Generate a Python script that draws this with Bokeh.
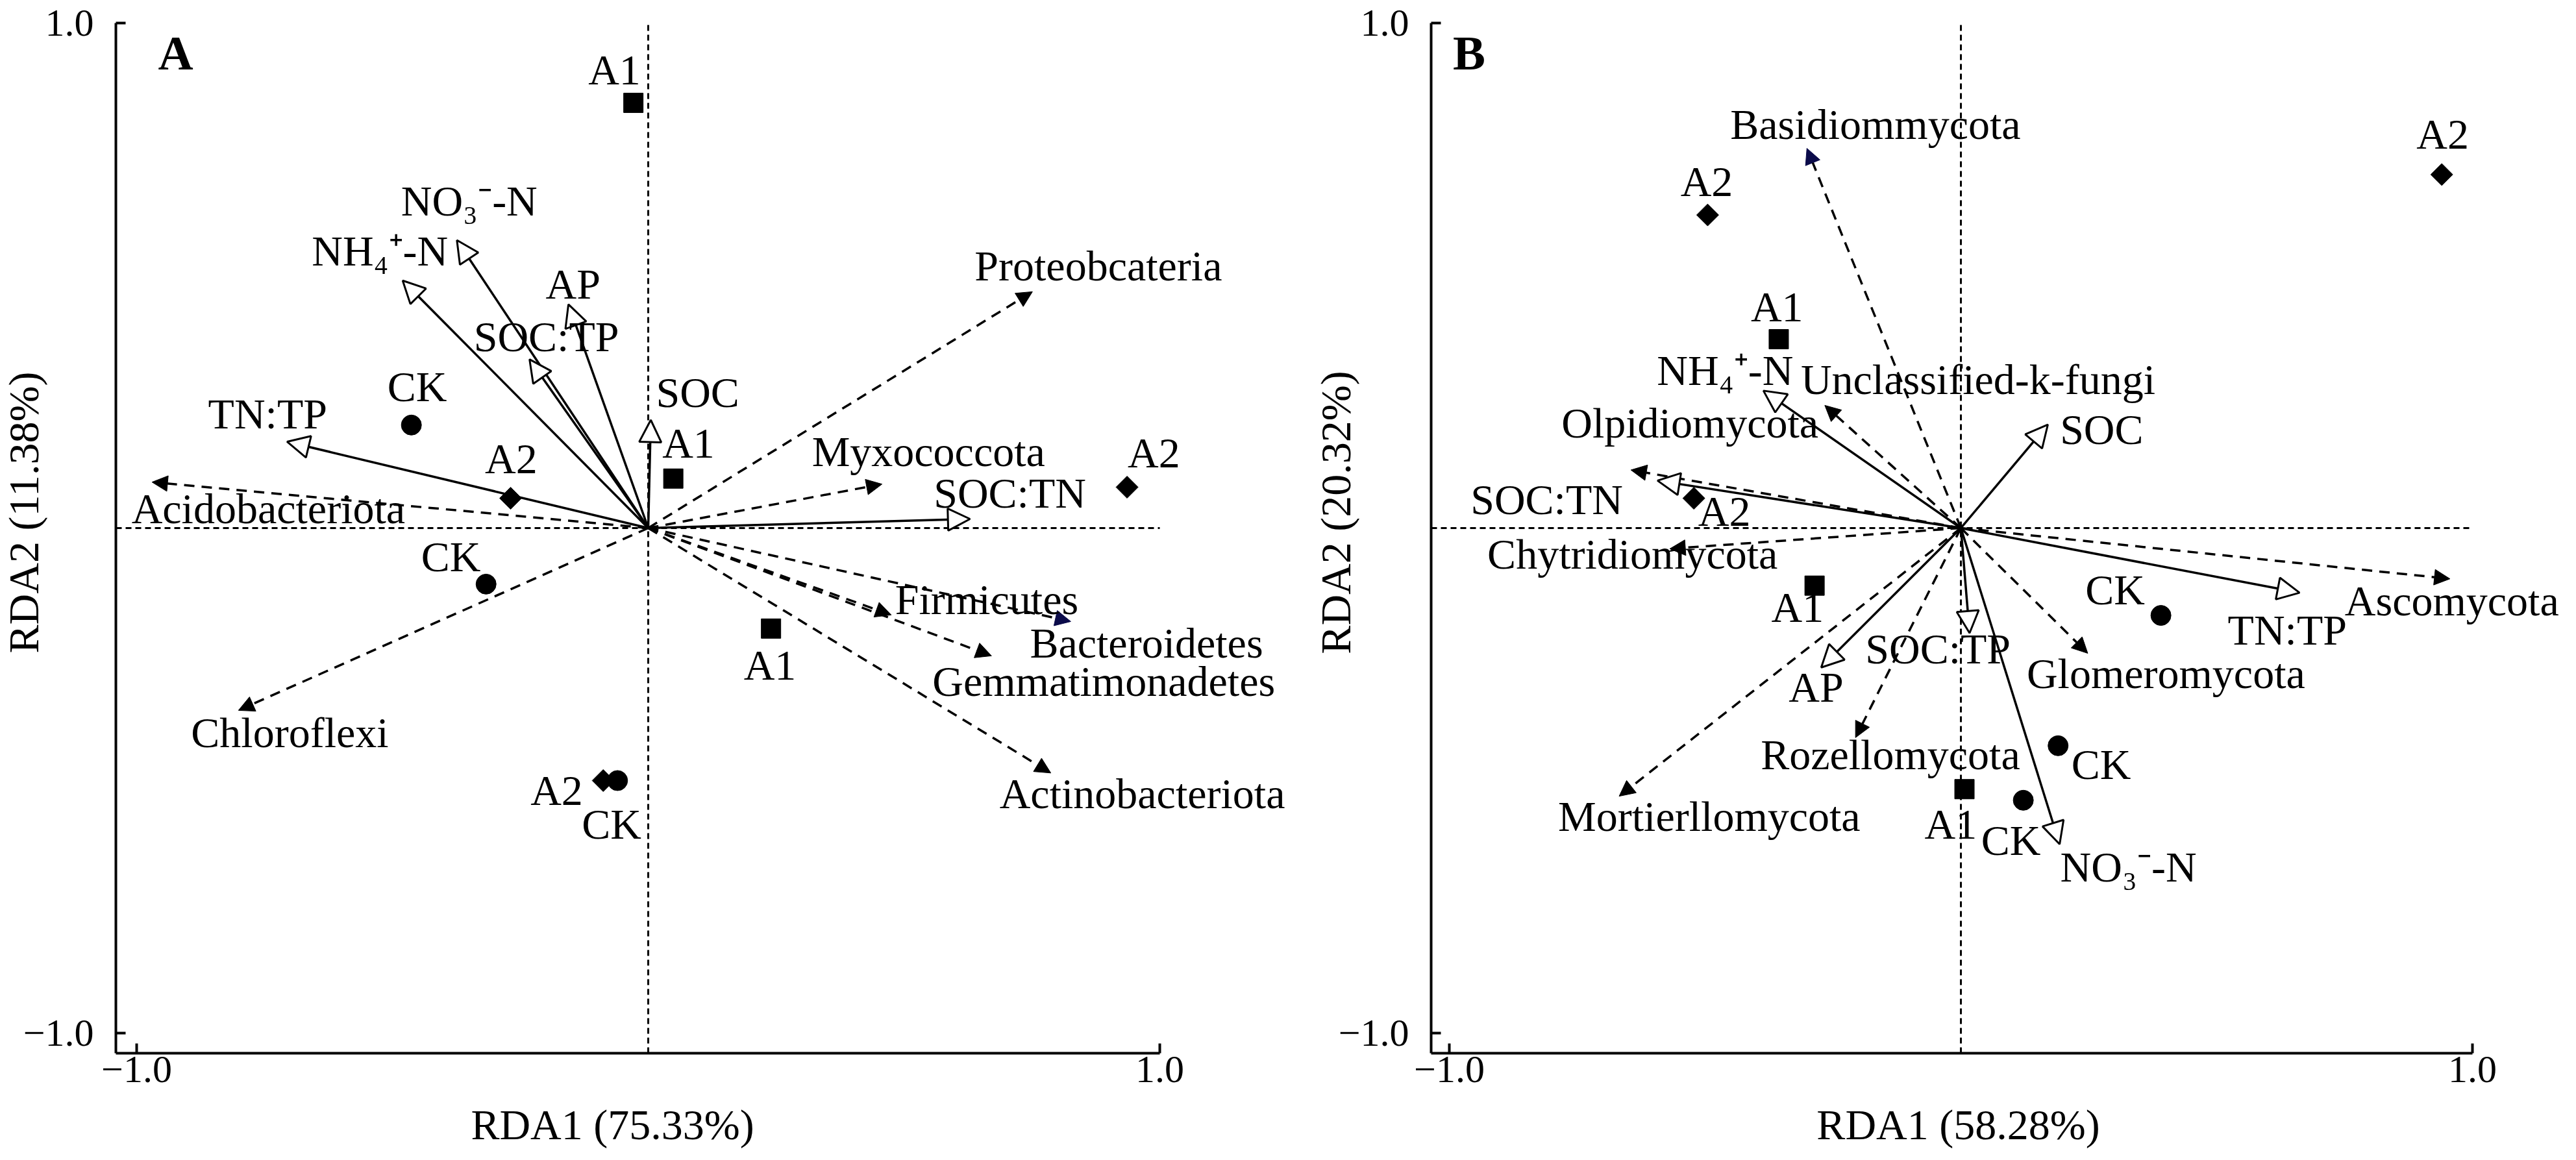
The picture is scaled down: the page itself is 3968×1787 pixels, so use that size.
import math
from bokeh.plotting import figure
from bokeh.models import (ColumnDataSource, Arrow, NormalHead, LabelSet, Label,
                          FixedTicker, CustomJSTickFormatter)
from bokeh.layouts import row
from bokeh.embed import file_html
from bokeh.resources import INLINE

FONT = "Liberation Serif"

# ======================= DATA =======================
# ---- Panel A (bacteria) ----
a_sites = ["A1", "A1", "A2", "CK", "A2", "CK", "A1", "A2", "CK"]
a_site_x = [-0.029, 0.049, 0.936, -0.463, -0.269, -0.317, 0.240, -0.088, -0.060]
a_site_y = [0.842, 0.098, 0.081, 0.204, 0.059, -0.111, -0.199, -0.500, -0.500]

a_env = ["NO₃⁻-N", "NH₄⁺-N", "AP", "SOC:TP", "TN:TP", "SOC", "SOC:TN"]
a_env_x = [-0.374, -0.480, -0.156, -0.232, -0.706, 0.005, 0.629]
a_env_y = [0.570, 0.490, 0.443, 0.334, 0.171, 0.214, 0.018]

a_taxa = ["Proteobcateria", "Myxococcota", "Acidobacteriota", "Chloroflexi",
          "Firmicutes", "Bacteroidetes", "Gemmatimonadetes", "Actinobacteriota"]
a_taxa_x = [0.751, 0.457, -0.970, -0.801, 0.475, 0.826, 0.671, 0.787]
a_taxa_y = [0.468, 0.087, 0.091, -0.361, -0.172, -0.185, -0.253, -0.485]

a_xlabel = "RDA1 (75.33%)"
a_ylabel = "RDA2 (11.38%)"

# ---- Panel B (fungi) ----
b_sites = ["A2", "A2", "A1", "A2", "A1", "CK", "CK", "A1", "CK"]
b_site_x = [0.940, -0.495, -0.356, -0.522, -0.286, 0.391, 0.190, 0.007, 0.122]
b_site_y = [0.700, 0.620, 0.374, 0.059, -0.114, -0.173, -0.431, -0.517, -0.539]

b_env = ["NH₄⁺-N", "SOC:TN", "SOC", "TN:TP", "AP", "SOC:TP", "NO₃⁻-N"]
b_env_x = [-0.386, -0.593, 0.170, 0.662, -0.273, 0.017, 0.193]
b_env_y = [0.272, 0.094, 0.205, -0.128, -0.276, -0.208, -0.626]

b_taxa = ["Basidiommycota", "Unclassified-k-fungi", "Olpidiomycota", "Chytridiomycota",
          "Ascomycota", "Glomeromycota", "Rozellomycota", "Mortierllomycota"]
b_taxa_x = [-0.301, -0.266, -0.645, -0.569, 0.956, 0.248, -0.206, -0.668]
b_taxa_y = [0.752, 0.243, 0.115, -0.041, -0.1005, -0.248, -0.415, -0.531]

b_xlabel = "RDA1 (58.28%)"
b_ylabel = "RDA2 (20.32%)"

axis_ticks = [-1.0, 1.0]

# ======================= LAYOUT / STYLE =======================
# visible window of each panel (data units) and where its axes sit
A_XR, A_YR = (-1.2665, 1.2563), (-1.2314, 1.0450)
A_AXIS_X, A_AXIS_Y = -1.0406, -1.0398          # left axis x, bottom axis y
B_XR, B_YR = (-1.3096, 1.1827), (-1.2314, 1.0450)
B_AXIS_X, B_AXIS_Y = -1.0355, -1.0398
A_W, B_W, H = 1988, 1964, 1771

# label offsets in screen px: (right, down) from the anchor (marker or arrow tip)
a_site_off = [(-69.5, -28), (-17, -32), (1, -30.5), (-37, -36.5), (-39.5, -39),
              (-100, -19.5), (-42, 78.5), (-112, 38), (-55, 89.6)]
a_env_off = [(-86, -38.5), (-140, -23.3), (-35, -9), (-86, -12.5), (-121.6, -20),
             (8, -20), (-56, -17.5)]
a_taxa_off = [(-89, -17), (-108, -28), (-31.5, 63.5), (-73, 57), (6, -1),
              (-63, 56), (-91, 62), (-79, 54)]
a_taxa_head = ["black", "black", "black", "black", "black", "#0b0b4a", "black", "black"]

b_site_off = [(-39, -40), (-41.8, -29.4), (-43, -27.6), (6.7, 42.6), (-66.5, 55.5),
              (-116.4, -16.7), (20.4, 51), (-61.4, 76), (-65, 84)]
b_env_off = [(-164, -8.7), (-288, 51.5), (18.7, 30), (-110.6, 80), (-50, 53),
             (-160.6, 47), (1, 57.4)]
b_taxa_off = [(-118, -14.3), (-37, -17), (-107, -50), (-281, 31), (-162, 56.6),
              (-94, 53.5), (-146, 49), (-94, 53.5)]
b_taxa_head = ["#0b0b4a", "black", "black", "black", "black", "black", "black", "black"]

MARK = {"CK": ("circle", 0.0, 31), "A1": ("square", 0.0, 30), "A2": ("square", math.pi / 4, 24)}
LABEL_PX = "66px"
TICK_PX = "60px"


def labelset(p, xs, ys, texts, offs):
    src = ColumnDataSource(dict(x=xs, y=ys, t=texts,
                                dx=[o[0] for o in offs], dy=[-o[1] for o in offs]))
    p.add_layout(LabelSet(x="x", y="y", text="t", x_offset="dx", y_offset="dy", source=src,
                          text_font=FONT, text_font_size=LABEL_PX, text_color="black",
                          text_align="left", text_baseline="alphabetic"))


def arrows(p, xs, ys, dashed, heads):
    groups = {}
    for x, y, h in zip(xs, ys, heads):
        groups.setdefault(h, ([], []))
        groups[h][0].append(x)
        groups[h][1].append(y)
    for h, (gx, gy) in groups.items():
        src = ColumnDataSource(dict(x0=[0.0] * len(gx), y0=[0.0] * len(gx), x1=gx, y1=gy))
        if dashed:
            head = NormalHead(size=24, fill_color=h, line_color=h, line_width=1)
            p.add_layout(Arrow(end=head, x_start="x0", y_start="y0", x_end="x1", y_end="y1",
                               source=src, line_color="black", line_width=3.5,
                               line_dash="16 11"))
        else:
            head = NormalHead(size=34, fill_color="white", line_color="black", line_width=3)
            p.add_layout(Arrow(end=head, x_start="x0", y_start="y0", x_end="x1", y_end="y1",
                               source=src, line_color="black", line_width=3.5))


def panel(letter, xr, yr, w, ax_x, ax_y, letter_dx, xlab, xlab_dx, ylab, ylab_dx,
          sites, sx, sy, soff, env, ex, ey, eoff, taxa, tx, ty, toff, thead):
    p = figure(x_range=xr, y_range=yr, width=w, height=H, min_border=0,
               output_backend="svg", toolbar_location=None,
               background_fill_color="white", border_fill_color="white")
    p.outline_line_color = None
    p.grid.visible = False
    fmt = CustomJSTickFormatter(code="return tick < 0 ? '\u2212' + Math.abs(tick).toFixed(1) : tick.toFixed(1);")
    for ax in (p.xaxis[0], p.yaxis[0]):
        ax.ticker = FixedTicker(ticks=axis_ticks)
        ax.formatter = fmt
        ax.major_tick_in = 15
        ax.major_tick_out = 0
        ax.minor_tick_line_color = None
        ax.axis_line_width = 4
        ax.axis_line_color = "black"
        ax.major_tick_line_width = 4
        ax.major_tick_line_color = "black"
        ax.major_label_text_font = FONT
        ax.major_label_text_font_size = TICK_PX
        ax.major_label_text_color = "black"
    p.yaxis[0].fixed_location = ax_x
    p.yaxis[0].bounds = (ax_y, axis_ticks[-1])
    p.xaxis[0].fixed_location = ax_y
    p.xaxis[0].bounds = (ax_x, axis_ticks[-1])
    p.yaxis[0].major_label_standoff = 34
    p.xaxis[0].major_label_standoff = 6

    # zero cross lines, from the axes to the 1.0 ticks
    p.segment(x0=[ax_x], x1=[axis_ticks[-1]], y0=[0.0], y1=[0.0],
              line_color="black", line_width=3, line_dash="9 6")
    p.segment(x0=[0.0], x1=[0.0], y0=[ax_y], y1=[axis_ticks[-1]],
              line_color="black", line_width=3, line_dash="9 6")

    arrows(p, tx, ty, True, thead)
    arrows(p, ex, ey, False, ["white"] * len(ex))

    mk = [MARK[s][0] for s in sites]
    ang = [MARK[s][1] for s in sites]
    sz = [MARK[s][2] for s in sites]
    p.scatter(x=sx, y=sy, marker=mk, angle=ang, size=sz, fill_color="black", line_color="black")

    labelset(p, sx, sy, sites, soff)
    labelset(p, ex, ey, env, eoff)
    labelset(p, tx, ty, taxa, toff)

    p.add_layout(Label(x=ax_x, y=axis_ticks[-1], x_offset=letter_dx, y_offset=-46, text=letter,
                       text_font=FONT, text_font_size="75px", text_font_style="bold",
                       text_color="black", text_align="left", text_baseline="alphabetic"))
    p.add_layout(Label(x=0.0, y=ax_y, x_offset=xlab_dx, y_offset=-110, text=xlab,
                       text_font=FONT, text_font_size=LABEL_PX, text_color="black",
                       text_align="center", text_baseline="alphabetic"))
    p.add_layout(Label(x=ax_x, y=0.0, x_offset=ylab_dx, y_offset=24, text=ylab, angle=math.pi / 2,
                       text_font=FONT, text_font_size=LABEL_PX, text_color="black",
                       text_align="center", text_baseline="middle"))
    return p


pa = panel("A", A_XR, A_YR, A_W, A_AXIS_X, A_AXIS_Y, 65,
           a_xlabel, -55, a_ylabel, -142,
           a_sites, a_site_x, a_site_y, a_site_off,
           a_env, a_env_x, a_env_y, a_env_off,
           a_taxa, a_taxa_x, a_taxa_y, a_taxa_off, a_taxa_head)

pb = panel("B", B_XR, B_YR, B_W, B_AXIS_X, B_AXIS_Y, 33.5,
           b_xlabel, -4, b_ylabel, -147,
           b_sites, b_site_x, b_site_y, b_site_off,
           b_env, b_env_x, b_env_y, b_env_off,
           b_taxa, b_taxa_x, b_taxa_y, b_taxa_off, b_taxa_head)

layout = row(pa, pb)
open("out.html", "w").write(file_html(layout, INLINE))
